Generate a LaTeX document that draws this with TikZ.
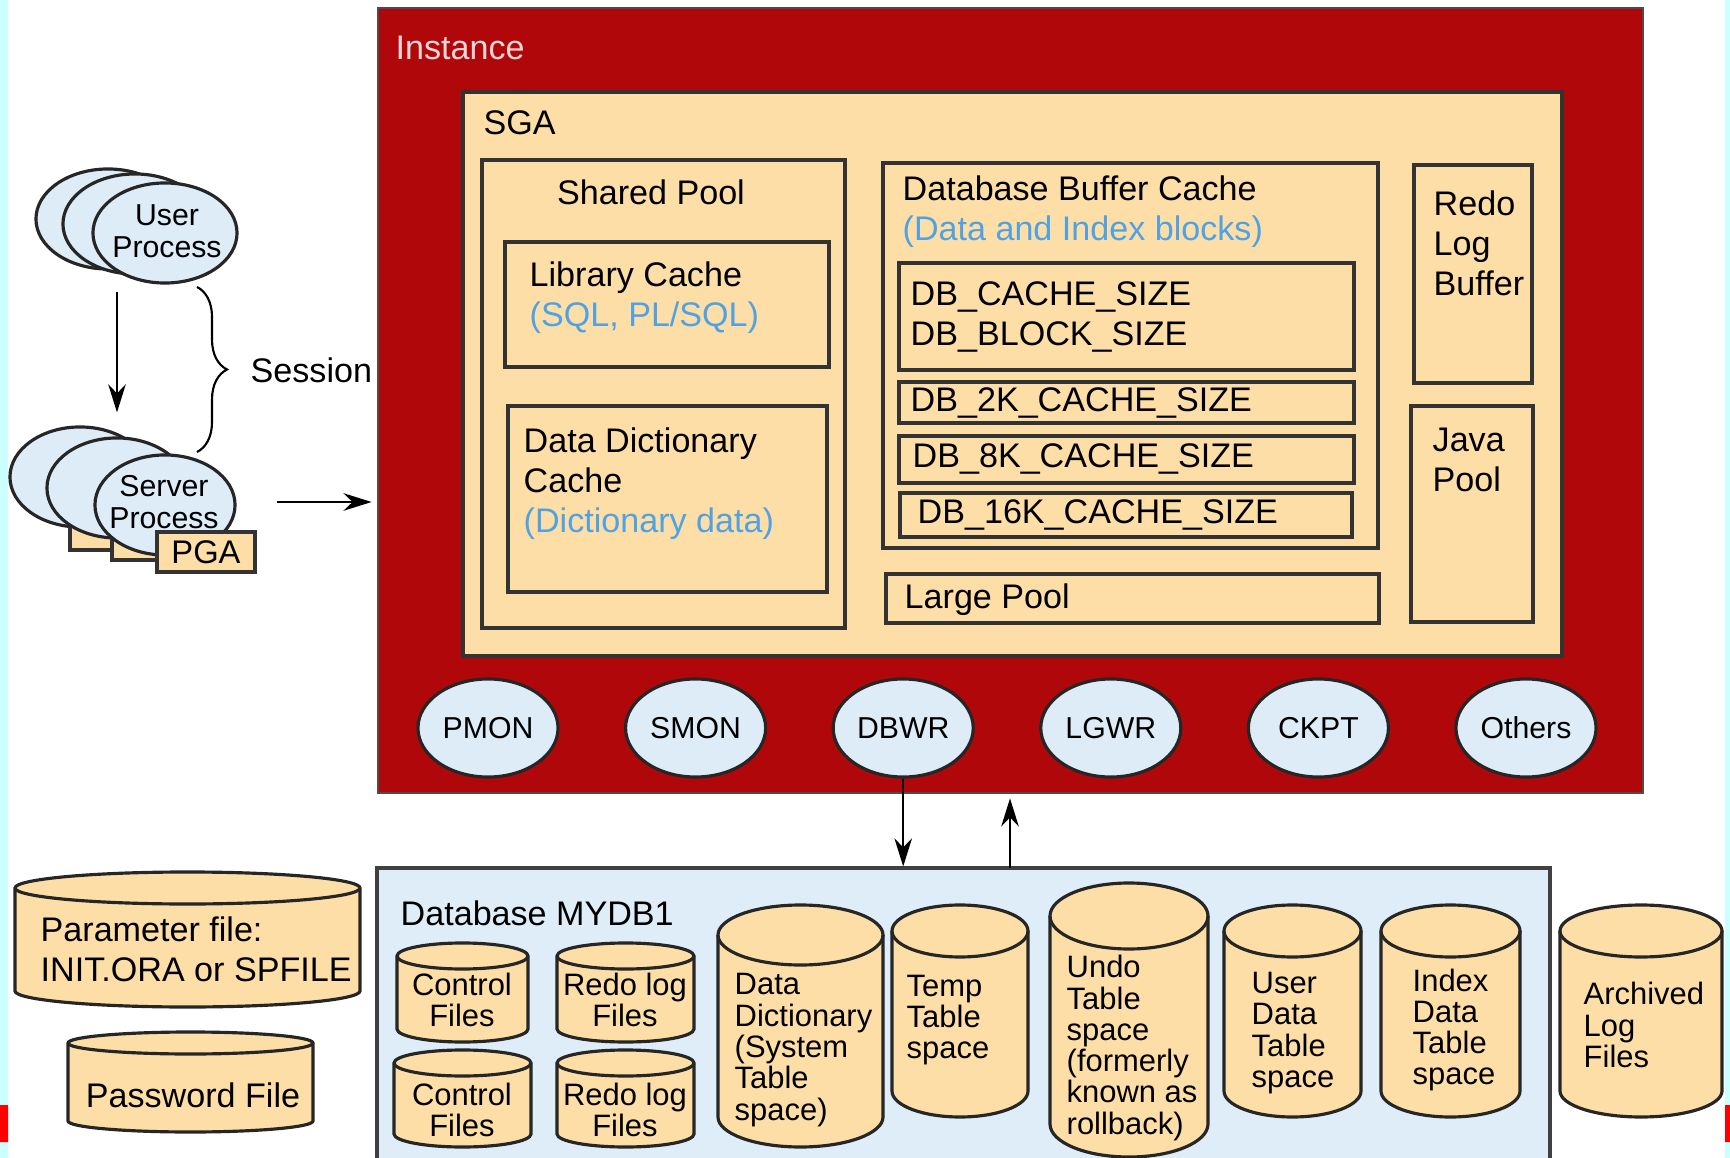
\documentclass[tikz,border=0pt]{standalone}
\usepackage{fontspec}
\setmainfont{Liberation Sans}
\usetikzlibrary{shapes.geometric,arrows.meta,fit,decorations.pathreplacing}

\definecolor{instred}{RGB}{176,8,10}
\definecolor{peach}{RGB}{253,222,166}
\definecolor{procblue}{RGB}{221,236,247}
\definecolor{dbblue}{RGB}{222,237,248}
\definecolor{hintblue}{RGB}{80,162,228}
\definecolor{edgecyan}{RGB}{204,255,255}
\definecolor{pinktxt}{RGB}{245,214,214}

% cylinder: left, right, top, bottom, y radius of the end
\newcommand\drum[5]{%
  \pgfmathsetmacro\drumrx{(#2-#1)/2}
  \filldraw[drumline] (#1,#3+#5) -- (#1,#4-#5)
    arc[start angle=180,end angle=0,x radius=\drumrx,y radius=#5] -- (#2,#3+#5)
    arc[start angle=0,end angle=-180,x radius=\drumrx,y radius=#5] -- cycle;
  \draw[drumline,fill=none] (#1,#3+#5) arc[start angle=180,end angle=0,x radius=\drumrx,y radius=#5];
}

\tikzset{
  box/.style={draw=black!80,line width=0.9pt,fill=peach,inner sep=0pt},
  lbl/.style={anchor=west,inner sep=0pt,align=left,font=\fontsize{9.7}{11.4}\selectfont},
  hint/.style={text=hintblue},
  proc/.style={ellipse,draw=black!85,line width=0.9pt,fill=procblue,inner sep=0pt,
    minimum width=1.40cm,minimum height=0.98cm,align=center,font=\fontsize{8.6}{9}\selectfont},
  proctxt/.style={inner sep=0pt,align=center,font=\fontsize{8.6}{9}\selectfont},
  drumline/.style={draw=black!85,line width=0.9pt,fill=peach},
  drumtxt/.style={inner sep=0pt,align=left,font=\fontsize{8.8}{8.9}\selectfont},
  arr/.style={-{Stealth[length=8pt,width=5pt]},line width=0.6pt}
}

\begin{document}
\begin{tikzpicture}[x=0.01cm,y=-0.01cm]
\useasboundingbox (0,0) rectangle (1730,1158);
\clip (0,0) rectangle (1730,1158);
\fill[edgecyan] (0,0) rectangle (8,1158) (1725,0) rectangle (1730,1158);
\fill[red] (0,1105) rectangle (8,1142) (1725,1105) rectangle (1730,1142);

% instance and SGA
\node[draw=black!70,line width=0.8pt,fill=instred,inner sep=0pt,fit={(378,8) (1643,793)}] (inst) {};
\node[lbl,text=pinktxt] (instlbl) at (395,48) {Instance};
\node[box,fit={(463,92) (1562,656)}] (sga) {};
\node[lbl] (sgalbl) at (483,123) {SGA};

\node[box,fit={(482,160) (845,628)}] (shp) {};
\node[lbl,anchor=center] (shplbl) at (651,192) {Shared Pool};
\node[box,fit={(505,242) (829,367)}] (lib) {};
\node[lbl] (liblbl) at (529,298) {Library Cache\\\textcolor{hintblue}{(SQL, PL/SQL)}};
\node[box,fit={(508,406) (827,592)}] (ddc) {};
\node[lbl] (ddclbl) at (523,484) {Data Dictionary\\Cache\\\textcolor{hintblue}{(Dictionary data)}};

\node[box,fit={(883,163) (1378,548)}] (dbc) {};
\node[lbl] (dbclbl) at (902,212) {Database Buffer Cache\\\textcolor{hintblue}{(Data and Index blocks)}};
\node[box,fit={(899,263) (1354,370)}] (csz) {};
\node[lbl] (cszlbl) at (910,317) {DB\_CACHE\_SIZE\\DB\_BLOCK\_SIZE};
\node[box,fit={(899,382) (1354,423)}] (c2k) {};
\node[lbl] (c2klbl) at (910,403) {DB\_2K\_CACHE\_SIZE};
\node[box,fit={(899,436) (1354,483)}] (c8k) {};
\node[lbl] (c8klbl) at (912,459) {DB\_8K\_CACHE\_SIZE};
\node[box,fit={(900,493) (1352,537)}] (c16k) {};
\node[lbl] (c16klbl) at (917,515) {DB\_16K\_CACHE\_SIZE};
\node[box,fit={(886,574) (1379,623)}] (lgp) {};
\node[lbl] (lgplbl) at (904,600) {Large Pool};

\node[box,fit={(1414,165) (1532,383)}] (rlb) {};
\node[lbl] (rlblbl) at (1433,243) {Redo\\Log\\Buffer};
\node[box,fit={(1411,406) (1533,622)}] (jvp) {};
\node[lbl] (jvplbl) at (1432,460) {Java\\Pool};

% background processes
\foreach \nm [count=\i from 0] in {PMON,SMON,DBWR,LGWR,CKPT,Others}
  \node[proc] (p\i) at (488+207.6*\i,728) {\nm};

% database
\node[draw=black!75,line width=0.9pt,fill=dbblue,inner sep=0pt,fit={(377,868) (1550,1180)}] (db) {};
\node[lbl] (dblbl) at (400,913) {Database MYDB1};

\drum{397}{528}{943}{1042}{13}
\node[drumtxt,align=center] (ctl1) at (462,1000) {Control\\Files};
\drum{394}{531}{1050}{1147}{13}
\node[drumtxt,align=center] (ctl2) at (462,1110) {Control\\Files};
\drum{557}{694}{943}{1042}{13}
\node[drumtxt,align=center] (rdo1) at (625,1000) {Redo log\\Files};
\drum{557}{694}{1050}{1147}{13}
\node[drumtxt,align=center] (rdo2) at (625,1110) {Redo log\\Files};
\drum{718}{883}{905}{1147}{30}
\node[drumtxt,anchor=west] (sys) at (734,1050) {Data\\Dictionary\\(System\\Table\\space)};
\drum{892}{1028}{905}{1117}{26}
\node[drumtxt,anchor=west] (tmp) at (906,1020) {Temp\\Table\\space};
\drum{1050}{1208}{883}{1157}{33}
\node[drumtxt,anchor=west] (undo) at (1066,1048) {Undo\\Table\\space\\(formerly\\known as\\rollback)};
\drum{1224}{1361}{905}{1117}{26}
\node[drumtxt,anchor=west] (usr) at (1251,1033) {User\\Data\\Table\\space};
\drum{1381}{1520}{905}{1117}{26}
\node[drumtxt,anchor=west] (idx) at (1412,1030) {Index\\Data\\Table\\space};
\drum{1560}{1722}{905}{1117}{26}
\node[drumtxt,anchor=west] (arch) at (1583,1025) {Archived\\Log\\Files};

\drum{15}{360}{872}{1007}{16}
\node[lbl] (par) at (40,949) {Parameter file:\\INIT.ORA or SPFILE};
\drum{68}{313}{1032}{1132}{11}
\node[lbl,anchor=center] (pwd) at (193,1095) {Password File};

% instance <-> database
\draw[arr] (p2.south) -- (p2.south |- db.north);
\coordinate (up) at (1010,868);
\draw[arr,shorten >=0.04cm] (up) -- (up |- inst.south);

% user and server processes
\node[proc,minimum width=1.44cm,minimum height=1.0cm] (u1) at (108,219) {};
\node[proc,minimum width=1.44cm,minimum height=1.0cm] (u2) at (135,224) {};
\node[proc,minimum width=1.44cm,minimum height=1.0cm] (u3) at (165,233) {};
\node[proctxt] (u3lbl) at (167,231) {User\\Process};

\node[proc,minimum height=1.0cm] (s1) at (80,477) {};
\node[box,minimum width=1.0cm,minimum height=0.32cm] (g1) at (120,534) {};
\node[proc,minimum height=1.0cm] (s2) at (117,488) {};
\node[box,minimum width=1.0cm,minimum height=0.28cm] (g2) at (162,546) {};
\node[proc,minimum height=1.0cm] (s3) at (165,505) {};
\node[proctxt] (s3lbl) at (164,502) {Server\\Process};
\node[box,minimum width=0.98cm,minimum height=0.40cm,font=\fontsize{9.3}{10}\selectfont] (g3) at (206,552) {PGA};

\coordinate (ua) at (117,292);
\draw[arr,shorten >=0.13cm] (ua) -- (ua |- s1.north);
\draw[decorate,decoration={brace,amplitude=0.3cm},line width=0.6pt] (197,287) -- (197,452);
\node[lbl] (sess) at (250,370) {Session};
\coordinate (sa) at (277,502);
\draw[arr,shorten >=0.05cm] (sa) -- (sa -| inst.west);
\end{tikzpicture}
\end{document}
